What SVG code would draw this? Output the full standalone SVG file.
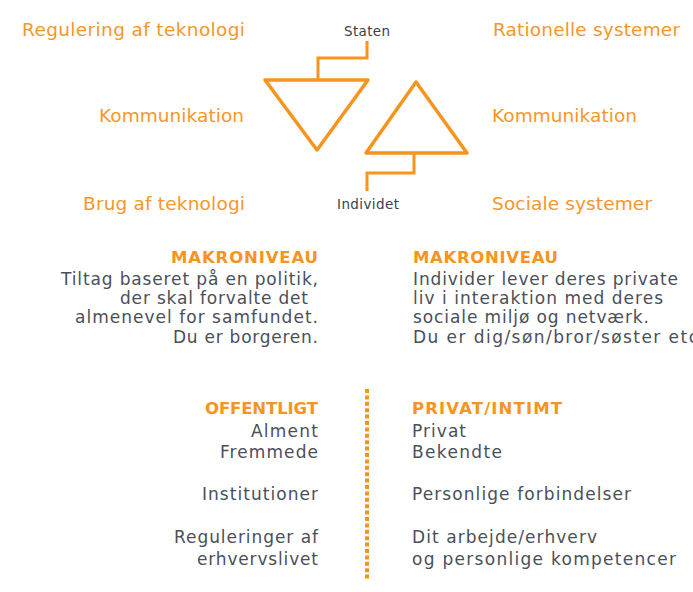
<svg xmlns="http://www.w3.org/2000/svg" width="693" height="592" viewBox="0 0 693 592">
<style>
.lbl{font-family:"DejaVu Sans","Liberation Sans",sans-serif;font-size:18.5px;fill:#f7962a}
.sm{font-family:"DejaVu Sans","Liberation Sans",sans-serif;font-size:13.5px;fill:#3a3f4a}
.body{font-family:"DejaVu Sans","Liberation Sans",sans-serif;font-size:17px;fill:#4a4f59}
.head{font-family:"DejaVu Sans","Liberation Sans",sans-serif;font-size:16.5px;font-weight:bold;fill:#f7941d}
.end{text-anchor:end}
.tri{fill:none;stroke:#f7941d;stroke-width:3.5;stroke-linejoin:round}
.wire{fill:none;stroke:#f7941d;stroke-width:3}
.dots{fill:none;stroke:#f7941d;stroke-width:4;stroke-dasharray:4 2.4}
</style>
<rect width="693" height="592" fill="#ffffff"/>
<g id="connectors">
  <polyline class="wire" points="318,80 318,58 367,58 367,41"/>
  <polyline class="wire" points="414,153 414,173 367,173 367,191"/>
  <line class="dots" x1="367" y1="389" x2="367" y2="581"/>
</g>
<g id="node-staten"><text class="sm" x="344" y="35.5" textLength="46" lengthAdjust="spacing">Staten</text></g>
<g id="node-individet"><text class="sm" x="337" y="209" textLength="62" lengthAdjust="spacing">Individet</text></g>
<g id="node-triangle-down"><polygon class="tri" points="265,80 368,80 317,150"/></g>
<g id="node-triangle-up"><polygon class="tri" points="416,82 467,153 366,153"/></g>
<g id="labels-left">
  <text class="lbl" x="22" y="36" textLength="223" lengthAdjust="spacing">Regulering af teknologi</text>
  <text class="lbl" x="99" y="122" textLength="145" lengthAdjust="spacing">Kommunikation</text>
  <text class="lbl" x="83" y="210" textLength="162" lengthAdjust="spacing">Brug af teknologi</text>
</g>
<g id="labels-right">
  <text class="lbl" x="493" y="36" textLength="187" lengthAdjust="spacing">Rationelle systemer</text>
  <text class="lbl" x="492" y="122" textLength="145" lengthAdjust="spacing">Kommunikation</text>
  <text class="lbl" x="492" y="210" textLength="160" lengthAdjust="spacing">Sociale systemer</text>
</g>
<g id="makro-left">
  <text class="head end" x="318" y="263" textLength="147" lengthAdjust="spacing">MAKRONIVEAU</text>
  <text class="body end" x="318" y="285" textLength="257" lengthAdjust="spacing">Tiltag baseret på en politik,</text>
  <text class="body end" x="308" y="304" textLength="188" lengthAdjust="spacing">der skal forvalte det</text>
  <text class="body end" x="318" y="323" textLength="243" lengthAdjust="spacing">almenevel for samfundet.</text>
  <text class="body end" x="318" y="342.5" textLength="145" lengthAdjust="spacing">Du er borgeren.</text>
</g>
<g id="makro-right">
  <text class="head" x="413" y="263" textLength="145" lengthAdjust="spacing">MAKRONIVEAU</text>
  <text class="body" x="413" y="285" textLength="265" lengthAdjust="spacing">Individer lever deres private</text>
  <text class="body" x="413" y="304" textLength="250" lengthAdjust="spacing">liv i interaktion med deres</text>
  <text class="body" x="413" y="323" textLength="236" lengthAdjust="spacing">sociale miljø og netværk.</text>
  <text class="body" x="413" y="342.5" textLength="285" lengthAdjust="spacing">Du er dig/søn/bror/søster etc</text>
</g>
<g id="offentligt">
  <text class="head end" x="318" y="414" textLength="113" lengthAdjust="spacing">OFFENTLIGT</text>
  <text class="body end" x="318" y="437" textLength="67" lengthAdjust="spacing">Alment</text>
  <text class="body end" x="318" y="458" textLength="98" lengthAdjust="spacing">Fremmede</text>
  <text class="body end" x="318" y="500" textLength="116" lengthAdjust="spacing">Institutioner</text>
  <text class="body end" x="318" y="543" textLength="144" lengthAdjust="spacing">Reguleringer af</text>
  <text class="body end" x="318" y="565" textLength="121" lengthAdjust="spacing">erhvervslivet</text>
</g>
<g id="privat">
  <text class="head" x="412" y="414" textLength="150" lengthAdjust="spacing">PRIVAT/INTIMT</text>
  <text class="body" x="412" y="437" textLength="54" lengthAdjust="spacing">Privat</text>
  <text class="body" x="412" y="458" textLength="90" lengthAdjust="spacing">Bekendte</text>
  <text class="body" x="412" y="500" textLength="219" lengthAdjust="spacing">Personlige forbindelser</text>
  <text class="body" x="412" y="543" textLength="185" lengthAdjust="spacing">Dit arbejde/erhverv</text>
  <text class="body" x="412" y="565" textLength="264" lengthAdjust="spacing">og personlige kompetencer</text>
</g>
</svg>
